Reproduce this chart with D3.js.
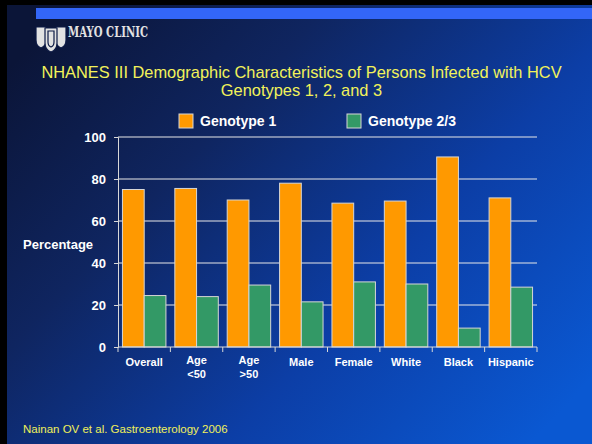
<!DOCTYPE html>
<html>
<head>
<meta charset="utf-8">
<script src="https://cdn.jsdelivr.net/npm/d3@7"></script>
<style>
  html, body { margin: 0; padding: 0; background: #000; }
  svg { display: block; }
  text { font-family: Arial, "Liberation Sans", sans-serif; }
</style>
</head>
<body>
<div id="chart"></div>
<script>
// data
var categories = [["Overall"], ["Age", "<50"], ["Age", ">50"], ["Male"], ["Female"], ["White"], ["Black"], ["Hispanic"]];
var genotype1 = [75, 75.5, 70, 78, 68.5, 69.5, 90.5, 71];
var genotype23 = [24.5, 24, 29.5, 21.5, 31, 30, 9, 28.5];
var seriesNames = ["Genotype 1", "Genotype 2/3"];
var yTicks = [0, 20, 40, 60, 80, 100];

var width = 592, height = 444;
var colors = ["#ff9900", "#339966"];

var svg = d3.select("#chart").append("svg")
    .attr("width", width)
    .attr("height", height);

// background gradient
var defs = svg.append("defs");
var grad = defs.append("linearGradient")
    .attr("id", "bg")
    .attr("x1", "0").attr("y1", "0.15")
    .attr("x2", "1").attr("y2", "0.85");
grad.append("stop").attr("offset", "0").attr("stop-color", "#0b1538");
grad.append("stop").attr("offset", "0.3").attr("stop-color", "#0f2560");
grad.append("stop").attr("offset", "0.65").attr("stop-color", "#0c3ea6");
grad.append("stop").attr("offset", "1").attr("stop-color", "#0a58d2");

svg.append("rect").attr("width", width).attr("height", height).attr("fill", "#000");
svg.append("rect").attr("x", 7).attr("y", 5).attr("width", width - 7).attr("height", height - 5)
    .attr("fill", "url(#bg)");

// blue stripe across the top
svg.append("rect").attr("x", 36).attr("y", 8).attr("width", width - 36).attr("height", 11)
    .attr("fill", "#3366f8");

// logo (rough)
var logo = svg.append("g").attr("fill", "#e2e2e2").attr("stroke", "#0d1a45").attr("stroke-width", 1.2);
logo.append("path").attr("d", "M36,27 L46,27 L46,40 Q46,46 41,48 Q36,46 36,40 Z");
logo.append("path").attr("d", "M56,27 L66,27 L66,40 Q66,46 61,48 Q56,46 56,40 Z");
logo.append("path").attr("d", "M45,28 L57,28 L57,43 Q57,50 51,52 Q45,50 45,43 Z");
logo.append("path").attr("d", "M48,31 L54,31 L54,42 Q54,46 51,47 Q48,46 48,42 Z").attr("fill", "none");
svg.append("text")
    .attr("x", 68).attr("y", 37)
    .attr("textLength", 80).attr("lengthAdjust", "spacingAndGlyphs")
    .style("font-family", "'DejaVu Serif', serif")
    .style("font-weight", "bold")
    .style("font-size", "14px")
    .attr("fill", "#e2e2e2")
    .text("MAYO CLINIC");

// title
var title = svg.append("text")
    .attr("text-anchor", "middle")
    .attr("fill", "#f2f25a")
    .style("font-size", "16.4px");
title.append("tspan").attr("x", 301.5).attr("y", 78).text("NHANES III Demographic Characteristics of Persons Infected with HCV");
title.append("tspan").attr("x", 301.5).attr("y", 96).text("Genotypes 1, 2, and 3");

// plot area
var margin = { left: 118, right: 537, top: 137, bottom: 347 };

var x0 = d3.scaleBand()
    .domain(d3.range(categories.length))
    .range([margin.left, margin.right])
    .paddingInner(0.17)
    .paddingOuter(0.085);

var x1 = d3.scaleBand()
    .domain([0, 1])
    .range([0, x0.bandwidth()]);

var y = d3.scaleLinear()
    .domain([0, 100])
    .range([margin.bottom, margin.top]);

// gridlines
svg.append("g")
    .selectAll("line")
    .data(yTicks.slice(1))
    .enter().append("line")
    .attr("x1", margin.left).attr("x2", margin.right)
    .attr("y1", function (d) { return y(d); })
    .attr("y2", function (d) { return y(d); })
    .attr("stroke", "#e8e8e8")
    .attr("stroke-width", 1);

// y axis
var yAxis = svg.append("g")
    .attr("transform", "translate(" + margin.left + ",0)")
    .call(d3.axisLeft(y).tickValues(yTicks).tickSize(4).tickPadding(8));
yAxis.select(".domain").attr("stroke", "#d8d8d8");
yAxis.selectAll(".tick line").attr("stroke", "#d8d8d8");
yAxis.selectAll("text")
    .attr("fill", "#fff")
    .style("font-size", "13px")
    .style("font-weight", "bold")
    .style("font-family", "Arial, 'Liberation Sans', sans-serif");

svg.append("text")
    .attr("x", 23).attr("y", 249)
    .attr("fill", "#fff")
    .style("font-size", "13px")
    .style("font-weight", "bold")
    .text("Percentage");

// bars
var rows = categories.map(function (c, i) { return [genotype1[i], genotype23[i]]; });
var groups = svg.append("g")
    .selectAll("g")
    .data(rows)
    .enter().append("g")
    .attr("transform", function (d, i) { return "translate(" + x0(i) + ",0)"; });

groups.selectAll("rect")
    .data(function (d) { return d; })
    .enter().append("rect")
    .attr("x", function (d, j) { return x1(j); })
    .attr("y", function (d) { return y(d); })
    .attr("width", x1.bandwidth())
    .attr("height", function (d) { return y(0) - y(d); })
    .attr("fill", function (d, j) { return colors[j]; })
    .attr("stroke", "#d6d6d6")
    .attr("stroke-width", 1);

// x axis: ticks at group boundaries
var bounds = d3.range(categories.length + 1).map(function (i) {
    return margin.left + i * (margin.right - margin.left) / categories.length;
});
var xAxis = svg.append("g");
xAxis.append("line")
    .attr("x1", margin.left).attr("x2", margin.right)
    .attr("y1", y(0)).attr("y2", y(0))
    .attr("stroke", "#d8d8d8");
xAxis.selectAll("line.tk")
    .data(bounds)
    .enter().append("line")
    .attr("class", "tk")
    .attr("x1", function (d) { return d; }).attr("x2", function (d) { return d; })
    .attr("y1", y(0)).attr("y2", y(0) + 5)
    .attr("stroke", "#d8d8d8");

var labels = xAxis.selectAll("text")
    .data(categories)
    .enter().append("text")
    .attr("text-anchor", "middle")
    .attr("fill", "#fff")
    .style("font-size", "11px")
    .style("font-weight", "bold");
labels.each(function (lines, i) {
    var t = d3.select(this);
    var cx = x0(i) + x0.bandwidth() / 2;
    var top = lines.length > 1 ? 364 : 366;
    lines.forEach(function (s, k) {
        t.append("tspan").attr("x", cx).attr("y", top + k * 14).text(s);
    });
});

// legend
var legend = svg.append("g");
var legX = [179, 347];
seriesNames.forEach(function (name, i) {
    legend.append("rect")
        .attr("x", legX[i]).attr("y", 114)
        .attr("width", 14).attr("height", 14)
        .attr("fill", colors[i])
        .attr("stroke", "#d6d6d6").attr("stroke-width", 1);
    legend.append("text")
        .attr("x", legX[i] + 21).attr("y", 126)
        .attr("fill", "#fff")
        .style("font-size", "14px")
        .style("font-weight", "bold")
        .text(name);
});

// source
svg.append("text")
    .attr("x", 23).attr("y", 433)
    .attr("fill", "#f0f05a")
    .style("font-size", "11.5px")
    .text("Nainan OV et al. Gastroenterology 2006");
</script>
</body>
</html>
